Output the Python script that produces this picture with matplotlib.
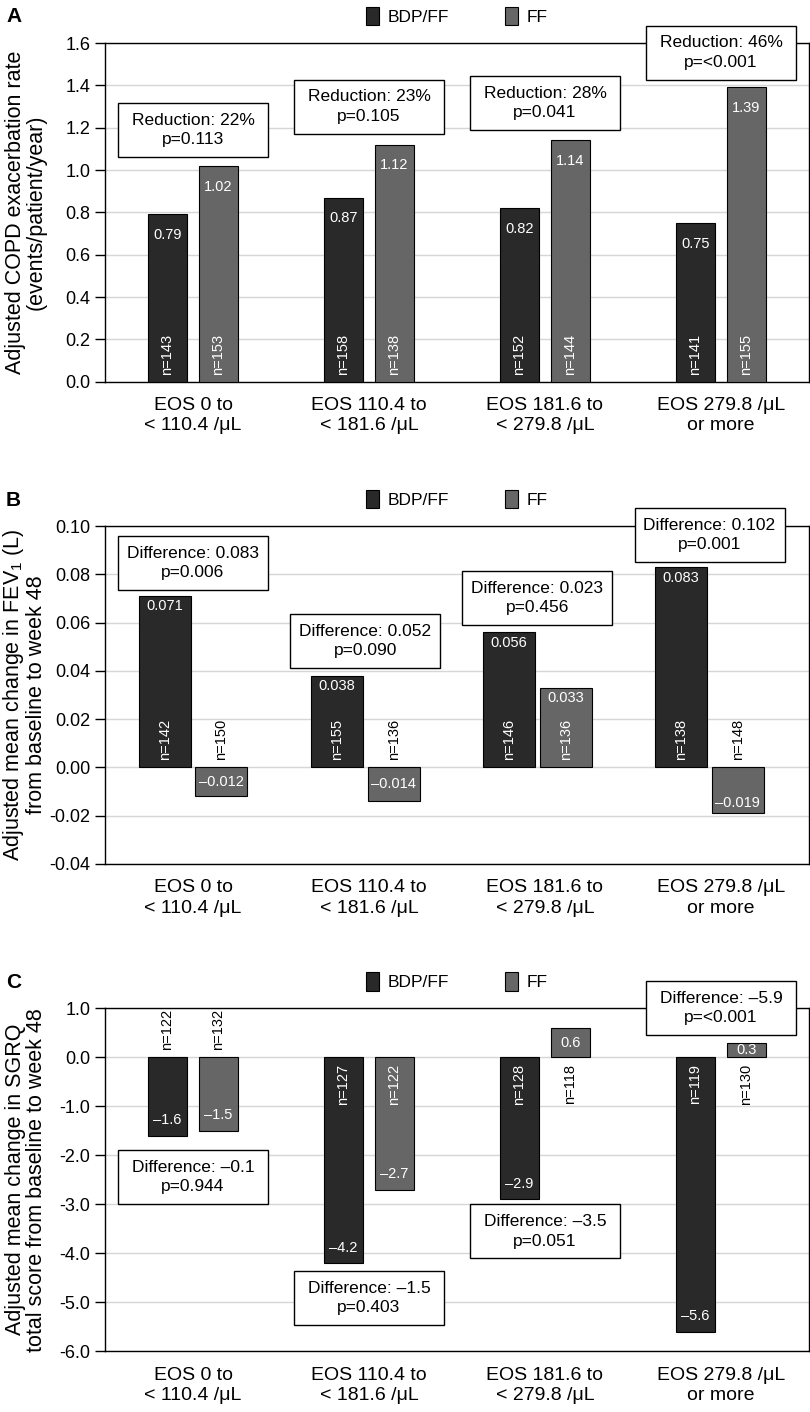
import numpy as np
import matplotlib
matplotlib.use("Agg")
import matplotlib.pyplot as plt
from matplotlib.patches import Patch, Rectangle
from matplotlib.ticker import FormatStrFormatter

plt.rcParams['font.family'] = ['Liberation Sans', 'DejaVu Sans']

# ---- data ----
categories = ["EOS 0 to\n< 110.4 /\u03bcL", "EOS 110.4 to\n< 181.6 /\u03bcL",
              "EOS 181.6 to\n< 279.8 /\u03bcL", "EOS 279.8 /\u03bcL\nor more"]
series = ["BDP/FF", "FF"]

# A: exacerbation rate
rate_bdp = [0.79, 0.87, 0.82, 0.75]
rate_ff = [1.02, 1.12, 1.14, 1.39]
rate_n_bdp = [143, 158, 152, 141]
rate_n_ff = [153, 138, 144, 155]
rate_notes = ["Reduction: 22%\np=0.113", "Reduction: 23%\np=0.105",
              "Reduction: 28%\np=0.041", "Reduction: 46%\np=<0.001"]

# B: FEV1 change
fev_bdp = [0.071, 0.038, 0.056, 0.083]
fev_ff = [-0.012, -0.014, 0.033, -0.019]
fev_n_bdp = [142, 155, 146, 138]
fev_n_ff = [150, 136, 136, 148]
fev_notes = ["Difference: 0.083\np=0.006", "Difference: 0.052\np=0.090",
             "Difference: 0.023\np=0.456", "Difference: 0.102\np=0.001"]

# C: SGRQ change
sgrq_bdp = [-1.6, -4.2, -2.9, -5.6]
sgrq_ff = [-1.5, -2.7, 0.6, 0.3]
sgrq_n_bdp = [122, 127, 128, 119]
sgrq_n_ff = [132, 122, 118, 130]
sgrq_notes = ["Difference: \u20130.1\np=0.944", "Difference: \u20131.5\np=0.403",
              "Difference: \u20133.5\np=0.051", "Difference: \u20135.9\np=<0.001"]

# ---- layout / style ----
DARK = "#292929"
GREY = "#666666"
BOX_W_PX, BOX_H_PX = 150, 54

# group centres (category units); panel B is drawn a little tighter
std_groups = [0, 1, 2, 3]
fev_groups = [0, 0.979, 1.956, 2.935]

# note box centres (value units)
rate_note_y = [1.189, 1.30, 1.316, 1.555]
fev_note_y = [0.0846, 0.0525, 0.0703, 0.0962]
sgrq_note_y = [-2.45, -4.91, -3.555, 1.0]

fig = plt.figure(figsize=(8.1, 14.12), dpi=100)
W, H = 810, 1412


def add_ax(top, bottom):
    return fig.add_axes([105 / W, 1 - bottom / H, 704 / W, (bottom - top) / H])


def fmt_val(v, dec):
    s = f"{v:.{dec}f}"
    return s.replace("-", "\u2013")


def draw_panel(ax, letter, bdp, ff, n_bdp, n_ff, notes, groups, note_y,
               ylim, step, tickfmt, dec, ylabel, val_off, bar_w, bar_off):
    x = np.array(groups, dtype=float)
    ax.set_xlim(-0.5, 3.5)
    ax.set_ylim(*ylim)
    ppu = ax.bbox.height / (ylim[1] - ylim[0])

    for vals, ns, shift, color in ((bdp, n_bdp, -bar_off, DARK), (ff, n_ff, bar_off, GREY)):
        ax.bar(x + shift, vals, width=bar_w, color=color, edgecolor="black",
               linewidth=0.8, zorder=3)
        for xi, v, n in zip(x + shift, vals, ns):
            up = v >= 0
            bar_px = abs(v) * ppu
            if bar_px < 40:
                # short bar: centre the value in it
                ax.text(xi, v / 2, fmt_val(v, dec), ha="center", va="center",
                        color="white", fontsize=10.5, zorder=4)
            else:
                ax.annotate(fmt_val(v, dec), (xi, v), xytext=(0, -val_off if up else val_off),
                            textcoords="offset points", ha="center",
                            va="top" if up else "bottom", color="white", fontsize=10.5, zorder=4)
            if bar_px >= 79:
                ax.annotate(f"n={n}", (xi, 0), xytext=(0, 5 if up else -5),
                            textcoords="offset points", rotation=90, ha="center",
                            va="bottom" if up else "top", color="white", fontsize=10.5, zorder=4)
            else:
                ax.annotate(f"n={n}", (xi, 0), xytext=(0, -5 if up else 5),
                            textcoords="offset points", rotation=90, ha="center",
                            va="top" if up else "bottom", color="black", fontsize=10.5, zorder=4)

    bw = BOX_W_PX / 176
    bh = BOX_H_PX / ppu
    for txt, cx, cy in zip(notes, x, note_y):
        ax.add_patch(Rectangle((cx - bw / 2, cy - bh / 2), bw, bh, facecolor="white",
                               edgecolor="black", linewidth=1, zorder=6, clip_on=False))
        ax.text(cx, cy, txt, ha="center", va="center", fontsize=12.5, linespacing=1.35,
                zorder=7, clip_on=False)

    ax.set_yticks(np.arange(ylim[0], ylim[1] + step / 2, step))
    ax.yaxis.set_major_formatter(FormatStrFormatter(tickfmt))
    ax.set_xticks(np.arange(len(categories)), categories)
    ax.tick_params(axis="x", length=0, pad=11, labelsize=14)
    for lab in ax.get_xticklabels():
        lab.set_linespacing(1.25)
    ax.tick_params(axis="y", length=7, width=1, pad=3.5, labelsize=13)
    ax.yaxis.grid(True, color="#d6d6d6", linewidth=1, zorder=0)
    ax.set_axisbelow(True)
    for sp in ax.spines.values():
        sp.set_linewidth(1)
        sp.set_color("black")

    ax.set_ylabel(ylabel, fontsize=15.5, linespacing=1.0)
    ax.yaxis.set_label_coords(-0.083, 0.5)

    handles = [Patch(facecolor=DARK, edgecolor="black", linewidth=0.8),
               Patch(facecolor=GREY, edgecolor="black", linewidth=0.8)]
    ax.legend(handles, series, loc="center", ncol=2, frameon=False, fontsize=12.5,
              handlelength=0.75, handleheight=1.3, handletextpad=0.5, columnspacing=3.2,
              bbox_to_anchor=(0.5, 1 + 27 / ax.bbox.height))
    top_px = H - ax.bbox.y1
    fig.text(6 / W, 1 - (top_px - 26) / H, letter, fontsize=15, fontweight="bold",
             ha="left", va="center")


axA = add_ax(43, 381.7)
draw_panel(axA, "A", rate_bdp, rate_ff, rate_n_bdp, rate_n_ff, rate_notes,
           std_groups, rate_note_y, (0.0, 1.6), 0.2, "%.1f", 2,
           "Adjusted COPD exacerbation rate\n(events/patient/year)", 10, 0.222, 0.145)

axB = add_ax(526, 864)
draw_panel(axB, "B", fev_bdp, fev_ff, fev_n_bdp, fev_n_ff, fev_notes,
           fev_groups, fev_note_y, (-0.04, 0.10), 0.02, "%.2f", 3,
           "Adjusted mean change in FEV$_\\mathregular{1}$ (L)\nfrom baseline to week 48", 2.5,
           0.295, 0.161)

axC = add_ax(1008.3, 1351.3)
draw_panel(axC, "C", sgrq_bdp, sgrq_ff, sgrq_n_bdp, sgrq_n_ff, sgrq_notes,
           std_groups, sgrq_note_y, (-6.0, 1.0), 1.0, "%.1f", 1,
           "Adjusted mean change in SGRQ\ntotal score from baseline to week 48", 6,
           0.222, 0.145)

fig.savefig("out.png", dpi=100)
